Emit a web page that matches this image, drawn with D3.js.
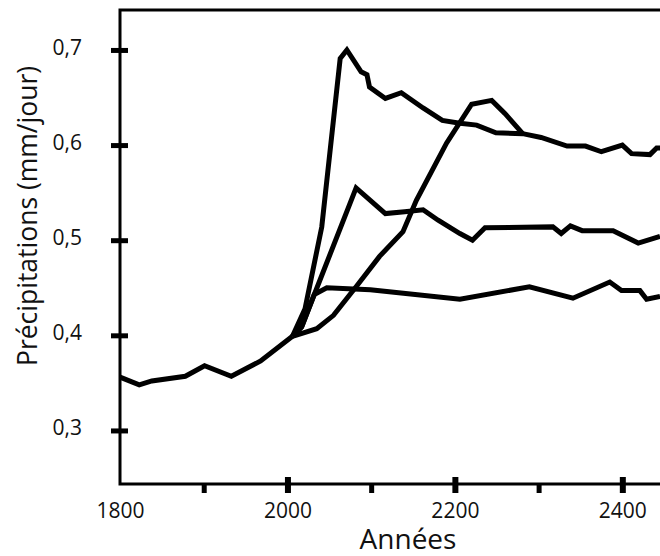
<!DOCTYPE html>
<html lang="fr">
<head>
    <meta charset="UTF-8">
    <title>Précipitations</title>
    <script src="https://d3js.org/d3.v7.min.js"></script>
    <style>
        body { margin: 0; background: #fff; }
        svg { display: block; font-family: "Open Sans", sans-serif; }
    </style>
</head>
<body>
    <svg width="660" height="556"></svg>
    <script>
        // historical part, shared by every scenario
        var histYears  = [1800, 1823, 1838, 1878, 1901, 1933, 1968, 2006];
        var histValues = [0.356, 0.348, 0.352, 0.357, 0.368, 0.357, 0.373, 0.399];

        // scenario with the sharp peak near 0.70
        var highYears  = [2006, 2021, 2041, 2063, 2071, 2088, 2095, 2098, 2117, 2136, 2162, 2185, 2206, 2226, 2249, 2281, 2303, 2334, 2356, 2375, 2400, 2411, 2433, 2441, 2445];
        var highValues = [0.399, 0.428, 0.514, 0.691, 0.700, 0.677, 0.674, 0.661, 0.649, 0.655, 0.639, 0.626, 0.623, 0.621, 0.613, 0.612, 0.608, 0.599, 0.599, 0.593, 0.600, 0.591, 0.590, 0.597, 0.597];

        // scenario peaking near 0.64 later on, joins the one above
        var slowYears  = [2006, 2035, 2055, 2082, 2110, 2138, 2154, 2190, 2220, 2244, 2260, 2281];
        var slowValues = [0.399, 0.407, 0.421, 0.451, 0.483, 0.509, 0.542, 0.602, 0.643, 0.647, 0.633, 0.612];

        // scenario peaking near 0.55
        var midYears  = [2006, 2017, 2082, 2117, 2140, 2162, 2180, 2206, 2221, 2236, 2317, 2327, 2338, 2352, 2389, 2419, 2445];
        var midValues = [0.399, 0.409, 0.555, 0.528, 0.530, 0.532, 0.521, 0.507, 0.500, 0.513, 0.514, 0.507, 0.515, 0.510, 0.510, 0.497, 0.504];

        // scenario levelling off near 0.45
        var lowYears  = [2006, 2017, 2032, 2047, 2099, 2206, 2289, 2341, 2385, 2399, 2421, 2429, 2445];
        var lowValues = [0.399, 0.409, 0.443, 0.450, 0.448, 0.438, 0.451, 0.439, 0.456, 0.447, 0.447, 0.438, 0.441];

        var xMajor = [1800, 2000, 2200, 2400];
        var xMinor = [1900, 2100, 2300];
        var yTicks = [0.3, 0.4, 0.5, 0.6, 0.7];

        var svg = d3.select('svg');
        var x = d3.scaleLinear().domain([1800, 2445]).range([120, 660]);
        var y = d3.scaleLinear().domain([0.2437, 0.742]).range([484, 10]);

        var fr = d3.formatLocale({decimal: ',', thousands: ' ', grouping: [3], currency: ['', ' €']});
        var fmt = fr.format('.1f');

        // frame (top, left, bottom)
        svg.append('path')
            .attr('d', 'M' + x.range()[1] + ',' + y.range()[1] + 'H' + x.range()[0] + 'V' + y.range()[0] + 'H' + x.range()[1])
            .attr('fill', 'none')
            .attr('stroke', '#000')
            .attr('stroke-width', 3)
            .attr('stroke-linejoin', 'miter');

        // y axis
        var gy = svg.append('g')
            .attr('transform', 'translate(' + x.range()[0] + ',0)')
            .call(d3.axisLeft(y).tickValues(yTicks).tickFormat(fmt).tickSizeOuter(0));
        gy.select('.domain').remove();
        gy.selectAll('.tick line')
            .attr('x1', -9).attr('x2', 8)
            .attr('stroke', '#000').attr('stroke-width', 5);
        gy.selectAll('.tick text')
            .attr('x', -38)
            .attr('dy', '0.2em')
            .attr('font-size', 21)
            .attr('font-family', '"Open Sans", sans-serif')
            .attr('fill', '#111');

        // x axis, major ticks cross the line, minor only below
        var gx = svg.append('g')
            .attr('transform', 'translate(0,' + y.range()[0] + ')')
            .call(d3.axisBottom(x).tickValues(xMajor).tickFormat(d3.format('d')).tickSizeOuter(0));
        gx.select('.domain').remove();
        gx.selectAll('.tick line')
            .attr('y1', -7).attr('y2', 9)
            .attr('stroke', '#000').attr('stroke-width', 6);
        gx.selectAll('.tick').filter(function (d) { return d === 1800; }).select('line').remove();
        gx.selectAll('.tick text')
            .attr('y', 34)
            .attr('dy', 0)
            .attr('font-size', 21)
            .attr('font-family', '"Open Sans", sans-serif')
            .attr('fill', '#111');

        var gxm = svg.append('g')
            .attr('transform', 'translate(0,' + y.range()[0] + ')')
            .call(d3.axisBottom(x).tickValues(xMinor).tickFormat(function () { return ''; }).tickSizeOuter(0));
        gxm.select('.domain').remove();
        gxm.selectAll('.tick line')
            .attr('y1', 0).attr('y2', 9)
            .attr('stroke', '#000').attr('stroke-width', 5);

        // axis titles
        svg.append('text')
            .attr('x', 408).attr('y', 549)
            .attr('text-anchor', 'middle')
            .attr('font-size', 28)
            .attr('fill', '#111')
            .text('Années');

        svg.append('text')
            .attr('transform', 'translate(37,216) rotate(-90)')
            .attr('text-anchor', 'middle')
            .attr('font-size', 26.5)
            .attr('fill', '#111')
            .text('Précipitations (mm/jour)');

        // lines
        var line = d3.line()
            .x(function (d) { return x(d[0]); })
            .y(function (d) { return y(d[1]); });

        var series = [
            [histYears, histValues],
            [highYears, highValues],
            [slowYears, slowValues],
            [midYears, midValues],
            [lowYears, lowValues]
        ];

        svg.append('g').selectAll('path')
            .data(series.map(function (s) { return d3.zip(s[0], s[1]); }))
            .enter().append('path')
            .attr('d', line)
            .attr('fill', 'none')
            .attr('stroke', '#000')
            .attr('stroke-width', 5)
            .attr('stroke-linejoin', 'miter')
            .attr('stroke-miterlimit', 3);
    </script>
</body>
</html>
